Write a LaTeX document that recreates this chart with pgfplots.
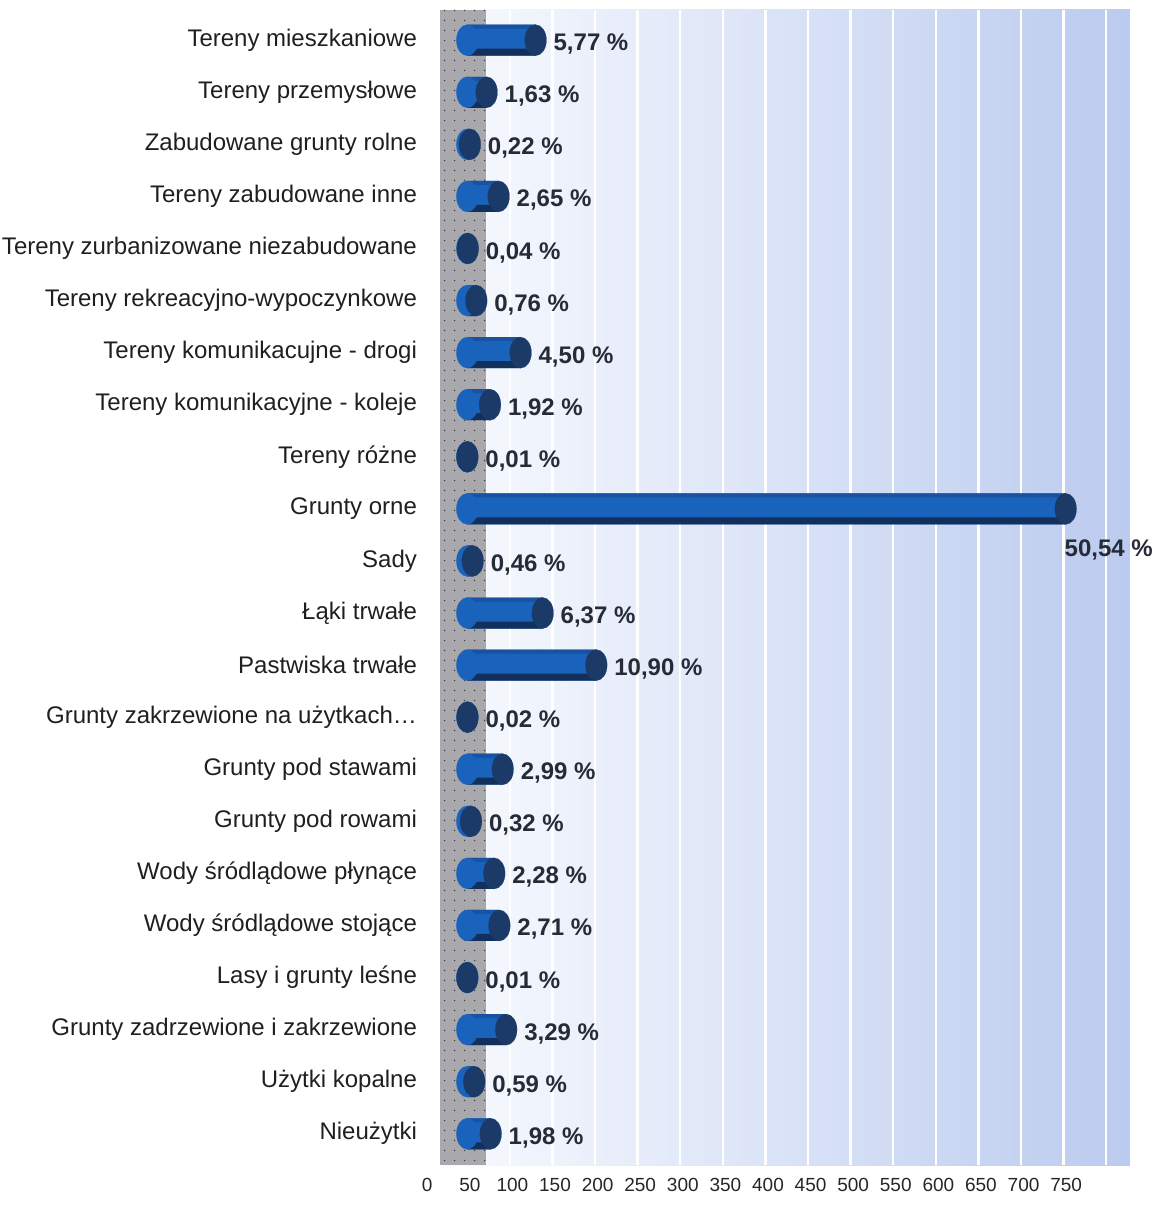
\documentclass[border=0pt]{standalone}
\usepackage{pgfplots}
\pgfplotsset{compat=1.18}
\usepackage{pgfplotstable}
\usepackage{fontspec}
\setmainfont{Liberation Sans}
\usetikzlibrary{patterns.meta}
\definecolor{barMid}{HTML}{1A63BC}
\definecolor{barTopS}{HTML}{1852A0}
\definecolor{barBot}{HTML}{13305C}
\definecolor{capCol}{HTML}{1B3A68}
\definecolor{bgL}{HTML}{F8FAFE}
\definecolor{bgR}{HTML}{BBCBEF}
\definecolor{wallCol}{HTML}{A9A9AD}
\definecolor{lblCol}{HTML}{262B38}

\tikzdeclarepattern{
  name=sparsedots,
  type=uncolored,
  bounding box={(0,0) and (5pt,5pt)},
  tile size={(5pt,5pt)},
  code={\fill (2.5pt,2.5pt) circle (0.45pt);}
}

\pgfplotstableread{
y val lab
0 80.2 {5,77~\%}
1 22.7 {1,63~\%}
2 3.1 {0,22~\%}
3 36.8 {2,65~\%}
4 0.6 {0,04~\%}
5 10.6 {0,76~\%}
6 62.6 {4,50~\%}
7 26.7 {1,92~\%}
8 0.1 {0,01~\%}
9 702.5 {50,54~\%}
10 6.4 {0,46~\%}
11 88.5 {6,37~\%}
12 151.5 {10,90~\%}
13 0.3 {0,02~\%}
14 41.6 {2,99~\%}
15 4.4 {0,32~\%}
16 31.7 {2,28~\%}
17 37.7 {2,71~\%}
18 0.1 {0,01~\%}
19 45.7 {3,29~\%}
20 8.2 {0,59~\%}
21 27.5 {1,98~\%}
}\data

\begin{document}
\begin{tikzpicture}
\useasboundingbox (0,0) rectangle (578.5pt,602.5pt);
\begin{axis}[
  at={(220pt,20pt)}, anchor=south west,
  scale only axis, width=345pt, height=577.5pt,
  xmin=-32, xmax=778, ymin=-0.58, ymax=21.6, y dir=reverse,
  xtick={0,50,...,750},
  ytick={0,1,2,3,4,5,6,7,8,9,10,11,12,13,14,15,16,17,18,19,20,21},
  yticklabels={Tereny mieszkaniowe, Tereny przemysłowe, Zabudowane grunty rolne, Tereny zabudowane inne, Tereny zurbanizowane niezabudowane, Tereny rekreacyjno-wypoczynkowe, Tereny komunikacujne - drogi, Tereny komunikacyjne - koleje, Tereny różne, Grunty orne, Sady, Łąki trwałe, Pastwiska trwałe, {Grunty zakrzewione na użytkach…}, Grunty pod stawami, Grunty pod rowami, Wody śródlądowe płynące, Wody śródlądowe stojące, Lasy i grunty leśne, Grunty zadrzewione i zakrzewione, Użytki kopalne, Nieużytki},
  axis line style={draw=none},
  major tick length=0pt,
  xmajorgrids,
  grid style={white, line width=1.2pt},
  axis background/.style={left color=bgL, right color=bgR},
  /pgf/number format/assume math mode=true,
  xticklabel style={font=\fontsize{9.5}{10}\selectfont, xshift=-20pt, yshift=-3pt, text=black!85},
  yticklabel style={font=\fontsize{12}{14}\selectfont, xshift=-8pt, text=black!88},
  clip=false,
]
\fill[wallCol] (axis cs:-32,-0.58) rectangle (axis cs:22,21.6);
\fill[pattern=sparsedots, pattern color=black!75] (axis cs:-32,-0.58) rectangle (axis cs:22,21.6);

% rounded back end of each cylinder
\addplot[only marks, mark=*, mark size=7.75pt,
  mark options={xscale=0.7, fill=barMid, draw=barMid, line width=0.1pt}]
  table[x expr=0, y=y]{\data};
% cylinder body
\addplot[xbar, bar shift=0pt, bar width=15.5pt, draw=none, fill=barMid]
  table[x=val, y=y]{\data};
% shaded lower edge
\addplot[xbar, bar shift=-6pt, bar width=3.5pt, draw=none, fill=barBot]
  table[x=val, y=y]{\data};
% upper edge
\addplot[xbar, bar shift=6.75pt, bar width=2pt, draw=none, fill=barTopS]
  table[x=val, y=y]{\data};
% front end cap
\addplot[only marks, mark=*, mark size=7.75pt,
  mark options={xscale=0.7, fill=capCol, draw=capCol, line width=0.1pt}]
  table[x=val, y=y]{\data};

\addplot[only marks, mark=none, nodes near coords, point meta=explicit symbolic,
  skip coords between index={9}{10},
  every node near coord/.style={anchor=west, xshift=5.5pt, yshift=-2pt,
    font=\bfseries\fontsize{12}{14}\selectfont, text=lblCol}]
  table[x=val, y=y, meta=lab]{\data};
\addplot[only marks, mark=none, nodes near coords, point meta=explicit symbolic,
  every node near coord/.style={anchor=north west, xshift=-4pt, yshift=-12pt,
    font=\bfseries\fontsize{12}{14}\selectfont, text=lblCol}]
  coordinates {(702.5,9) [50,54~\%]};
\end{axis}
\end{tikzpicture}
\end{document}
